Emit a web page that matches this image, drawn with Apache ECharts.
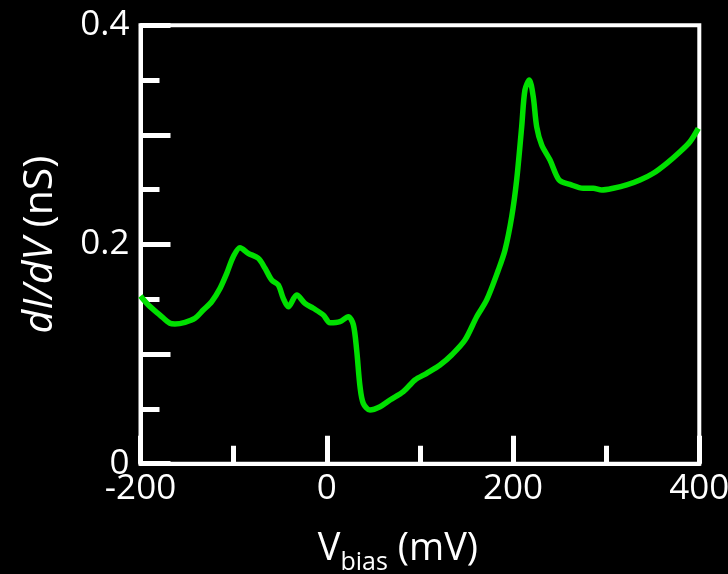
<!DOCTYPE html>
<html>
<head>
<meta charset="utf-8">
<script src="https://cdn.jsdelivr.net/npm/echarts@6/dist/echarts.min.js"></script>
<style>
html,body{margin:0;padding:0;background:#000;}
#c{width:728px;height:574px;}
</style>
</head>
<body>
<div id="c"></div>
<script>
const vbias = [-200, -191.6, -179.1, -168.4, -163.0, -152.2, -141.5, -132.6, -123.6, -114.6, -107.4, -100.4, -93.2, -84.3, -73.5, -66.3, -59.1, -52.0, -46.7, -41.3, -32.3, -23.4, -14.5, -3.7, 3.5, 14.2, 23.1, 28.5, 32.1, 35.7, 39.2, 46.4, 57.2, 67.9, 82.2, 94.7, 107.3, 121.6, 134.1, 148.4, 161.0, 171.7, 184.2, 191.4, 198.6, 203.9, 209.3, 212.8, 217.5, 221.7, 225.4, 230.8, 239.7, 249.5, 261.1, 275.4, 286.2, 295.2, 307.6, 322.0, 336.3, 350.6, 365.0, 379.3, 390.0, 398.9];
const didv = [0.153, 0.1448, 0.1356, 0.1281, 0.1275, 0.129, 0.1327, 0.1402, 0.1478, 0.16, 0.1737, 0.1889, 0.1971, 0.192, 0.1874, 0.1783, 0.1676, 0.163, 0.1509, 0.1432, 0.1539, 0.1463, 0.1418, 0.1357, 0.1286, 0.1296, 0.1341, 0.127, 0.1037, 0.0703, 0.0551, 0.049, 0.052, 0.0581, 0.0657, 0.0764, 0.0825, 0.0901, 0.0992, 0.1128, 0.1341, 0.1494, 0.1767, 0.195, 0.2254, 0.2588, 0.3075, 0.341, 0.3501, 0.3349, 0.3075, 0.2908, 0.2771, 0.2588, 0.2548, 0.2513, 0.2513, 0.2497, 0.2513, 0.2543, 0.2588, 0.265, 0.2741, 0.2847, 0.2938, 0.306];
const xTickLabels = ['-200', '0', '200', '400'];
const yTickLabels = ['0', '0.2', '0.4'];

const FONT = 'Open Sans';
const chart = echarts.init(document.getElementById('c'), null, {renderer: 'canvas'});
chart.setOption({
  backgroundColor: '#000',
  animation: false,
  grid: {left: 140.5, right: 28.7, top: 25.3, bottom: 110.3, show: true, borderColor: '#fff', borderWidth: 4,
    backgroundColor: 'transparent', containLabel: false, outerBoundsMode: 'none'},
  xAxis: {
    type: 'value', min: -200, max: 400, interval: 200,
    axisLine: {show: true, onZero: false, lineStyle: {color: '#fff', width: 4}},
    axisTick: {show: true, inside: true, length: 28, lineStyle: {color: '#fff', width: 5}},
    minorTick: {show: true, splitNumber: 2, length: 18, lineStyle: {color: '#fff', width: 5}},
    splitLine: {show: false},
    axisLabel: {color: '#fff', fontSize: 35, fontFamily: FONT, margin: 8, hideOverlap: false,
      formatter: v => xTickLabels.includes(String(v)) ? String(v) : ''},
    name: '{v|V}{s|bias}{v| (mV)}',
    nameLocation: 'middle', nameGap: 66,
    nameTextStyle: {color: '#fff', fontFamily: FONT, padding: [0, 44, 0, 0], verticalAlign: 'top',
      rich: {
        v: {fontSize: 38, fontFamily: FONT, color: '#fff', lineHeight: 36, verticalAlign: 'top'},
        s: {fontSize: 25, fontFamily: FONT, color: '#fff', lineHeight: 24, verticalAlign: 'top', padding: [21, 0, 0, 0]}
      }}
  },
  yAxis: {
    type: 'value', min: 0, max: 0.4, interval: 0.1,
    axisLine: {show: true, onZero: false, lineStyle: {color: '#fff', width: 4}},
    axisTick: {show: true, inside: true, length: 30, lineStyle: {color: '#fff', width: 5}},
    minorTick: {show: true, splitNumber: 2, length: 19, lineStyle: {color: '#fff', width: 5}},
    splitLine: {show: false},
    axisLabel: {color: '#fff', fontSize: 35, fontFamily: FONT, margin: 11, hideOverlap: false,
      formatter: v => { const s = String(Math.round(v * 10) / 10); return yTickLabels.includes(s) ? s : ''; }},
    name: '{i|dI/dV}{n| (nS)}',
    nameLocation: 'middle', nameGap: 80,
    nameTextStyle: {color: '#fff', fontFamily: FONT,
      rich: {
        i: {fontSize: 41, fontFamily: FONT, fontStyle: 'italic', color: '#fff'},
        n: {fontSize: 41, fontFamily: FONT, color: '#fff'}
      }}
  },
  series: [{
    type: 'line',
    data: vbias.map((x, i) => [x, didv[i]]),
    showSymbol: false,
    smooth: 0.3,
    lineStyle: {color: '#00e000', width: 5.5},
    clip: false
  }]
});
</script>
</body>
</html>
